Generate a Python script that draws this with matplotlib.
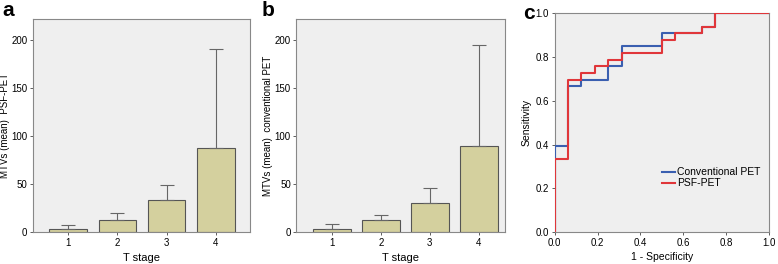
import numpy as np
import matplotlib
matplotlib.use("Agg")
import matplotlib.pyplot as plt

plt.rcParams['font.family'] = ['Liberation Sans', 'DejaVu Sans']

# data
stages = [1, 2, 3, 4]
psf_mean = [3.5, 12.2, 33.0, 87.7]
psf_upper = [7.7, 20.0, 48.7, 191.0]
conv_mean = [3.5, 12.2, 30.3, 89.7]
conv_upper = [8.7, 17.7, 46.3, 195.0]

# ROC steps (1 - specificity, sensitivity)
conv_fpr = [0.0, 0.0, 0.0625, 0.0625, 0.125, 0.125, 0.25, 0.25, 0.3125, 0.3125, 0.5, 0.5, 0.6875, 0.6875, 0.75, 0.75, 1.0]
conv_tpr = [0.0, 0.394, 0.394, 0.667, 0.667, 0.697, 0.697, 0.758, 0.758, 0.848, 0.848, 0.909, 0.909, 0.939, 0.939, 1.0, 1.0]
psf_fpr = [0.0, 0.0, 0.0625, 0.0625, 0.125, 0.125, 0.1875, 0.1875, 0.25, 0.25, 0.3125, 0.3125, 0.5, 0.5, 0.5625, 0.5625, 0.6875, 0.6875, 0.75, 0.75, 1.0]
psf_tpr = [0.0, 0.333, 0.333, 0.697, 0.697, 0.727, 0.727, 0.758, 0.758, 0.788, 0.788, 0.818, 0.818, 0.879, 0.879, 0.909, 0.909, 0.939, 0.939, 1.0, 1.0]

bg = '#efefef'
barcol = '#d4d09e'
edge = '#555555'

fig = plt.figure(figsize=(7.78, 2.64), dpi=100)

def barpanel(ax, mean, upper, ylabel, xlim):
    ax.set_facecolor(bg)
    err = np.array(upper) - np.array(mean)
    ax.bar(stages, mean, width=0.77, color=barcol, edgecolor=edge, linewidth=0.8, zorder=2)
    ax.errorbar(stages, mean, yerr=[np.zeros(4), err], fmt='none', ecolor='#666666',
                elinewidth=0.8, capsize=5, capthick=0.8, zorder=3)
    ax.set_xlim(*xlim)
    ax.set_ylim(0, 222)
    ax.set_yticks([0, 50, 100, 150, 200])
    ax.set_xticks(stages)
    ax.tick_params(labelsize=7, length=2.5, width=0.6, color='#444444', pad=1.5)
    ax.set_xlabel('T stage', fontsize=8, labelpad=4)
    ax.set_ylabel(ylabel, fontsize=7, labelpad=1)
    for s in ax.spines.values():
        s.set_color('#888888')
        s.set_linewidth(0.8)

ax1 = fig.add_axes([0.0424, 0.121, 0.279, 0.807])
barpanel(ax1, psf_mean, psf_upper, 'MTVs (mean)  PSF-PET', (0.28, 4.7))
ax2 = fig.add_axes([0.381, 0.121, 0.268, 0.807])
barpanel(ax2, conv_mean, conv_upper, 'MTVs (mean)  conventional PET', (0.28, 4.53))

ax3 = fig.add_axes([0.713, 0.121, 0.275, 0.829])
ax3.set_facecolor(bg)
ax3.plot(conv_fpr, conv_tpr, color='#3a5fb0', linewidth=1.5, label='Conventional PET', zorder=3)
ax3.plot(psf_fpr, psf_tpr, color='#e0363a', linewidth=1.5, label='PSF-PET', zorder=4)
ax3.set_xlim(0, 1)
ax3.set_ylim(0, 1)
ax3.set_xticks(np.arange(0, 1.01, 0.2))
ax3.set_yticks(np.arange(0, 1.01, 0.2))
ax3.xaxis.set_major_formatter(matplotlib.ticker.FormatStrFormatter('%.1f'))
ax3.yaxis.set_major_formatter(matplotlib.ticker.FormatStrFormatter('%.1f'))
ax3.tick_params(labelsize=7, length=2.5, width=0.6, color='#444444', pad=1.5)
ax3.set_xlabel('1 - Specificity', fontsize=7.5, labelpad=3)
ax3.set_ylabel('Sensitivity', fontsize=7.5, labelpad=3)
for s in ax3.spines.values():
    s.set_color('#888888')
    s.set_linewidth(0.8)
ax3.legend(loc='lower right', bbox_to_anchor=(0.98, 0.18), frameon=False, fontsize=7.5,
           handlelength=1.2, handletextpad=0.2, labelspacing=0.1, borderaxespad=0)

fig.text(0.003, 0.995, 'a', fontsize=15, fontweight='bold', va='top', ha='left')
fig.text(0.336, 0.995, 'b', fontsize=15, fontweight='bold', va='top', ha='left')
fig.text(0.673, 0.985, 'c', fontsize=15, fontweight='bold', va='top', ha='left')

fig.savefig('out.png', dpi=100)
